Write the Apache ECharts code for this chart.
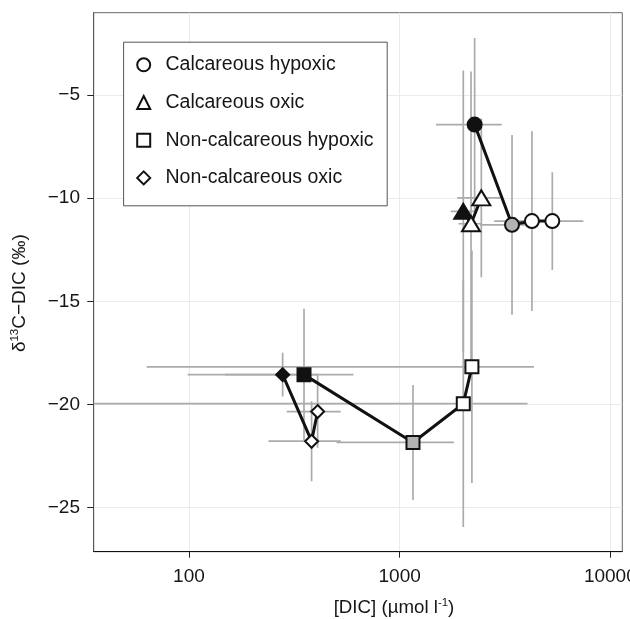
<!DOCTYPE html>
<html><head><meta charset="utf-8">
<script src="https://cdn.jsdelivr.net/npm/echarts@6/dist/echarts.min.js"></script>
<style>html,body{margin:0;padding:0;background:#fff}#c{width:630px;height:619px}</style>
</head><body><div id="c"></div>
<script>
// ---- data ----
const groupNames = ['Calcareous hypoxic', 'Calcareous oxic', 'Non-calcareous hypoxic', 'Non-calcareous oxic'];
const groupSymbols = ['circle', 'triangle', 'rect', 'diamond'];

// Calcareous hypoxic (circles)
const chDIC    = [2270, 3415, 4246, 5305];
const chD13C   = [-6.43, -11.29, -11.11, -11.11];
const chDICsd  = [782, 1011, 1434, 2142];
const chD13Csd = [4.2, 4.36, 4.36, 2.37];
const chFill   = ['black', 'grey', 'white', 'white'];

// Calcareous oxic (triangles)
const coDIC    = [2005, 2182, 2442];
const coD13C   = [-10.64, -11.24, -9.98];
const coDICsd  = [257, 280, 564];
const coD13Csd = [6.83, 7.39, 3.85];
const coFill   = ['black', 'white', 'white'];

// Non-calcareous hypoxic (squares)
const nhDIC    = [351.6, 1157, 2005, 2203];
const nhD13C   = [-18.56, -21.85, -19.97, -18.18];
const nhDICsd  = [253, 655, 2040, 2140];
const nhD13Csd = [3.2, 2.79, 5.98, 5.64];
const nhFill   = ['black', 'grey', 'white', 'white'];

// Non-calcareous oxic (diamonds)
const noDIC    = [278.4, 382, 408];
const noD13C   = [-18.56, -21.79, -20.35];
const noDICsd  = [130, 143.5, 117];
const noD13Csd = [1.06, 1.94, 1.76];
const noFill   = ['black', 'white', 'white'];

const xTicks = [100, 1000, 10000];
const yTicks = [-25, -20, -15, -10, -5];
const X_MIN = 35.3, X_MAX = 11400, Y_MIN = -27.15, Y_MAX = -1.0;

// ---- styling ----
const FONT = '"Liberation Sans", Arial, Helvetica, sans-serif';
const fillColor = { black: '#111111', grey: '#b3b3b3', white: '#ffffff' };
const symbolSizes = [14, [18, 15], 13, 13];

const groups = [
  [chDIC, chD13C, chDICsd, chD13Csd, chFill],
  [coDIC, coD13C, coDICsd, coD13Csd, coFill],
  [nhDIC, nhD13C, nhDICsd, nhD13Csd, nhFill],
  [noDIC, noD13C, noDICsd, noD13Csd, noFill]
];

const errData = [];
groups.forEach(g => g[0].forEach((x, i) => errData.push([x, g[1][i], g[2][i], g[3][i]])));

const series = [{
  type: 'custom',
  name: 'errors',
  data: errData,
  encode: { x: 0, y: 1 },
  clip: true,
  silent: true,
  z: 1,
  renderItem: function (params, api) {
    const x = api.value(0), y = api.value(1), xs = api.value(2), ys = api.value(3);
    const lo = Math.max(x - xs, X_MIN), hi = Math.min(x + xs, X_MAX);
    const a = api.coord([lo, y]), b = api.coord([hi, y]);
    const c = api.coord([x, y - ys]), d = api.coord([x, y + ys]);
    const st = { stroke: '#ababab', lineWidth: 1.7, fill: null };
    return {
      type: 'group', children: [
        { type: 'line', shape: { x1: a[0], y1: a[1], x2: b[0], y2: b[1] }, style: st },
        { type: 'line', shape: { x1: c[0], y1: c[1], x2: d[0], y2: d[1] }, style: st }
      ]
    };
  }
}];

groups.forEach((g, k) => {
  series.push({
    type: 'line',
    name: groupNames[k],
    data: g[0].map((x, i) => ({ value: [x, g[1][i]], itemStyle: { color: fillColor[g[4][i]] } })),
    symbol: groupSymbols[k],
    symbolSize: symbolSizes[k],
    showAllSymbol: true,
    lineStyle: { color: '#111111', width: 3 },
    itemStyle: { color: '#111111', borderColor: '#111111', borderWidth: 2 },
    emphasis: { disabled: true },
    silent: true,
    z: 3
  });
});

const chart = echarts.init(document.getElementById('c'), null, { renderer: 'canvas' });
chart.setOption({
  animation: false,
  backgroundColor: '#ffffff',
  grid: {
    left: 93.7, right: 7.7, top: 12.7, bottom: 67.3,
    show: true, borderColor: '#666666', borderWidth: 1,
    containLabel: false, outerBoundsMode: 'none'
  },
  legend: {
    orient: 'vertical',
    left: 123.6, top: 42.2,
    padding: [12.6, 13.6, 17.9, 12.6],
    itemWidth: 13, itemHeight: 13,
    itemGap: 17.7,
    symbolKeepAspect: true,
    selectedMode: false,
    borderColor: '#555555', borderWidth: 1,
    backgroundColor: '#ffffff',
    textStyle: { fontFamily: FONT, fontSize: 19.5, lineHeight: 20, color: '#161616', padding: [0, 0, 0, 10.3] },
    data: groupNames.map((n, k) => ({
      name: n, icon: groupSymbols[k],
      itemStyle: { color: '#ffffff', borderColor: '#111111', borderWidth: 2 }
    }))
  },
  xAxis: {
    type: 'log', logBase: 10,
    min: X_MIN, max: X_MAX,
    name: '{n|[DIC] (µmol l}{s|-1}{n|)}',
    nameLocation: 'middle', nameGap: 45.3,
    nameTextStyle: {
      padding: [0, 0, 0, 72],
      rich: {
        n: { fontFamily: FONT, fontSize: 18.7, lineHeight: 22, color: '#161616' },
        s: { fontFamily: FONT, fontSize: 11.5, lineHeight: 12, verticalAlign: 'top', color: '#161616' }
      }
    },
    axisLine: { show: true, lineStyle: { color: '#111111', width: 1 } },
    axisTick: { show: true, length: 6, customValues: xTicks, lineStyle: { color: '#222222', width: 1 } },
    axisLabel: {
      customValues: xTicks, margin: 15.5,
      fontFamily: FONT, fontSize: 19, lineHeight: 19, color: '#161616',
      formatter: v => String(v)
    },
    splitLine: { show: true, lineStyle: { color: '#ebebeb', width: 1 } },
    minorTick: { show: false }
  },
  yAxis: {
    type: 'value',
    min: Y_MIN, max: Y_MAX,
    name: '{n|δ}{s|13}{n|C\u2212DIC (‰)}',
    nameLocation: 'middle', nameRotate: 90, nameGap: 62.7,
    nameTextStyle: {
      padding: [0, 22, 0, 0],
      rich: {
        n: { fontFamily: FONT, fontSize: 19, lineHeight: 22, color: '#161616' },
        s: { fontFamily: FONT, fontSize: 11.5, lineHeight: 12, verticalAlign: 'top', color: '#161616' }
      }
    },
    axisLine: { show: true, lineStyle: { color: '#555555', width: 1 } },
    axisTick: { show: true, length: 6.4, customValues: yTicks, lineStyle: { color: '#222222', width: 1 } },
    axisLabel: {
      customValues: yTicks, margin: 13.7,
      fontFamily: FONT, fontSize: 19, color: '#161616',
      formatter: v => (v < 0 ? '\u2212' : '') + Math.abs(v)
    },
    splitLine: { show: true, lineStyle: { color: '#ebebeb', width: 1 } }
  },
  series: series
});
</script></body></html>
